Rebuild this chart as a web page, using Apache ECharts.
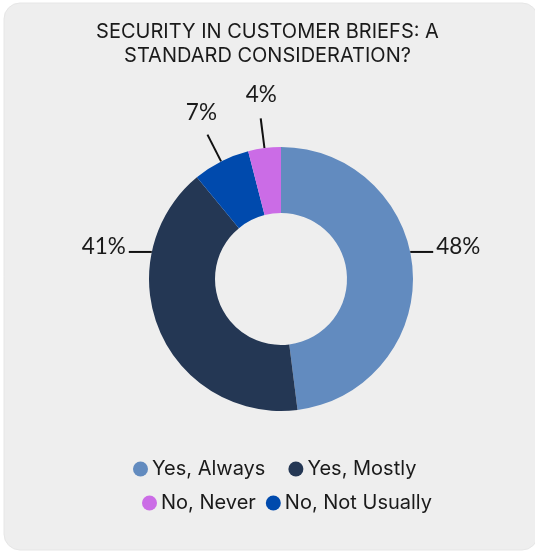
<!DOCTYPE html>
<html>
<head>
<meta charset="utf-8">
<script src="https://cdn.jsdelivr.net/npm/echarts@6/dist/echarts.min.js"></script>
<style>
  html, body { margin: 0; padding: 0; background: #ffffff; }
  #chart { width: 535px; height: 552px; }
</style>
</head>
<body>
<div id="chart"></div>
<script>
// Survey answers, in ring order (clockwise from 12 o'clock)
const categories = ['Yes, Always', 'Yes, Mostly', 'No, Not Usually', 'No, Never'];
const shares = [48, 41, 7, 4];
const sliceColors = ['#628BBF', '#243754', '#004AAD', '#CB6CE6'];

// Legend rows
const legendRow1 = ['Yes, Always', 'Yes, Mostly'];
const legendRow2 = ['No, Never', 'No, Not Usually'];

const titleText = 'SECURITY IN CUSTOMER BRIEFS: A\nSTANDARD CONSIDERATION?';

// Ring geometry
const cx = 281, cy = 279, rOuter = 132, rInner = 66;
const total = shares.reduce((a, b) => a + b, 0);

function midAngle(i) {
  let cum = 0;
  for (let k = 0; k < i; k++) cum += shares[k];
  return ((cum + shares[i] / 2) / total) * 2 * Math.PI;
}

// Large slices get a short level leader at the side of the ring,
// small ones a radial leader with the value above its end.
function placeLabel(params) {
  const i = params.dataIndex;
  const a = midAngle(i);
  const dx = Math.sin(a), dy = -Math.cos(a);
  if (shares[i] >= 20) {
    const side = dx >= 0 ? 1 : -1;
    const h = rOuter * 0.205;
    const y = cy - h;
    const x0 = cx + side * Math.sqrt(rOuter * rOuter - h * h);
    const x1 = x0 + side * 23;
    return {
      x: x1 + side * 3,
      y: y - 5,
      align: side > 0 ? 'left' : 'right',
      verticalAlign: 'middle',
      labelLinePoints: [[x0, y], [x1, y], [x1, y]]
    };
  }
  const x0 = cx + dx * rOuter, y0 = cy + dy * rOuter;
  const len = 30;
  const x1 = x0 + dx * len, y1 = y0 + dy * len;
  return {
    x: x1 + dx * 20 + 3,
    y: y1 + dy * 20 - 4,
    align: 'center',
    verticalAlign: 'middle',
    labelLinePoints: [[x0, y0], [x1, y1], [x1, y1]]
  };
}

const chart = echarts.init(document.getElementById('chart'), null, { renderer: 'canvas' });

const legendBase = {
  icon: 'circle',
  itemWidth: 15,
  itemHeight: 15,
  padding: 0,
  textStyle: {
    fontFamily: 'Inter',
    fontSize: 20,
    color: '#1a1a1a',
    padding: [0, 0, 0, -1]
  }
};

chart.setOption({
  backgroundColor: '#ffffff',
  color: sliceColors,
  graphic: [{
    type: 'rect',
    z: -10,
    silent: true,
    shape: { x: 4, y: 3, width: 534, height: 547, r: 16 },
    style: { fill: '#eeeeee', stroke: '#e6e6e6', lineWidth: 1 }
  }],
  title: {
    text: titleText,
    left: 'center',
    top: 15,
    textStyle: {
      fontFamily: 'Inter',
      fontSize: 20,
      fontWeight: 'normal',
      lineHeight: 24,
      color: '#1a1a1a'
    }
  },
  legend: [
    Object.assign({}, legendBase, { data: legendRow1, left: 133, top: 459, itemGap: 23 }),
    Object.assign({}, legendBase, { data: legendRow2, left: 142, top: 493, itemGap: 10 })
  ],
  series: [{
    type: 'pie',
    center: [cx, cy],
    radius: [rInner, rOuter],
    startAngle: 90,
    clockwise: true,
    avoidLabelOverlap: false,
    silent: true,
    label: {
      show: true,
      position: 'outside',
      formatter: '{c}%',
      fontFamily: 'Lato',
      fontSize: 22.5,
      color: '#1a1a1a'
    },
    labelLine: {
      show: true,
      length: 30,
      length2: 0,
      lineStyle: { color: '#111111', width: 2 }
    },
    labelLayout: placeLabel,
    data: categories.map((name, i) => ({ name: name, value: shares[i] }))
  }]
});
</script>
</body>
</html>
